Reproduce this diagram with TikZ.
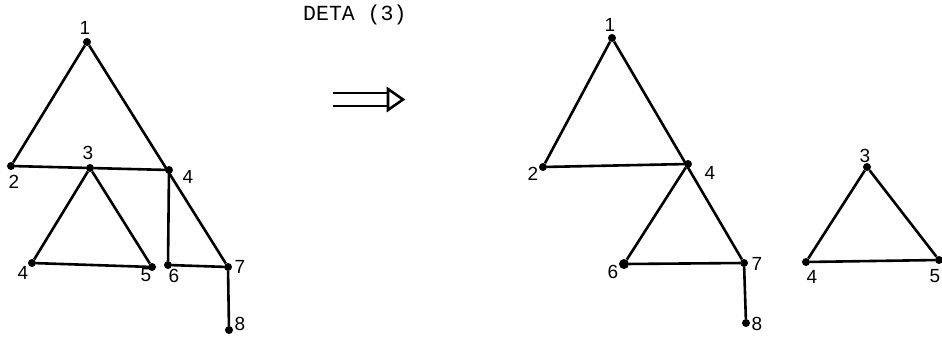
\documentclass[tikz,border=0pt]{standalone}
\usepackage{fontspec}
\setmainfont{Liberation Sans}
\setmonofont{Liberation Mono}
\begin{document}
\begin{tikzpicture}[x=1pt,y=-1pt,
  dot/.style={circle,fill=black,inner sep=0pt,minimum size=8pt},
  num/.style={inner sep=0pt,font=\fontsize{19}{19}\selectfont},
  edge/.style={line width=2.6pt}]
  \useasboundingbox (0,0) rectangle (942,343);

  % before
  \node[dot] (a1) at (87,42) {};
  \node[dot] (a2) at (11,166) {};
  \node[dot] (a3) at (90,168) {};
  \node[dot] (a4) at (169,170) {};
  \node[dot] (a4b) at (32,263) {};
  \node[dot] (a5) at (152,267) {};
  \node[dot] (a6) at (168,265) {};
  \node[dot] (a7) at (228,267) {};
  \node[dot] (a8) at (229,330) {};
  \node[num] (ta1) at (85,28) {1};
  \node[num] (ta2) at (14,182) {2};
  \node[num] (ta3) at (88,153) {3};
  \node[num] (ta4) at (188,177) {4};
  \node[num] (ta4b) at (23,273) {4};
  \node[num] (ta5) at (146,275) {5};
  \node[num] (ta6) at (174,276) {6};
  \node[num] (ta7) at (240,267) {7};
  \node[num] (ta8) at (240,324) {8};
  \draw[edge] (a2) -- (a1) -- (a7) -- (a8);
  \draw[edge] (a2) -- (a3) -- (a4) -- (a6) -- (a7);
  \draw[edge] (a3) -- (a4b) -- (a5) -- (a3);

  % title and arrow
  \node[anchor=west,inner sep=0pt,font=\ttfamily\fontsize{21.5}{21.5}\selectfont] (title) at (303,15) {DETA (3)};
  \coordinate (arr) at (333,99.5);
  \draw[edge] (arr) ++(0,-6.5) -- ++(56,0);
  \draw[edge] (arr) ++(0,6.5) -- ++(56,0);
  \draw[edge] (arr) ++(55,-10.5) -- ++(15,10.5) -- ++(-15,10.5) -- cycle;

  % after
  \node[dot] (b1) at (612,38) {};
  \node[dot] (b2) at (543,167) {};
  \node[dot] (b4) at (688,164) {};
  \node[dot,minimum size=10pt] (b6) at (624,264) {};
  \node[dot] (b7) at (744,263) {};
  \node[dot] (b8) at (746,323) {};
  \node[num] (tb1) at (610,25) {1};
  \node[num] (tb2) at (533,174) {2};
  \node[num] (tb4) at (710,173) {4};
  \node[num] (tb6) at (613,272) {6};
  \node[num] (tb7) at (757,264) {7};
  \node[num] (tb8) at (757,324) {8};
  \draw[edge] (b2) -- (b1) -- (b7) -- (b8);
  \draw[edge] (b2) -- (b4) -- (b6) -- (b7);

  \node[dot] (c3) at (867,167) {};
  \node[dot] (c4) at (806,262) {};
  \node[dot] (c5) at (939,260) {};
  \node[num] (tc3) at (865,156) {3};
  \node[num] (tc4) at (812,277) {4};
  \node[num] (tc5) at (935,276) {5};
  \draw[edge] (c3) -- (c4) -- (c5) -- (c3);
\end{tikzpicture}
\end{document}
